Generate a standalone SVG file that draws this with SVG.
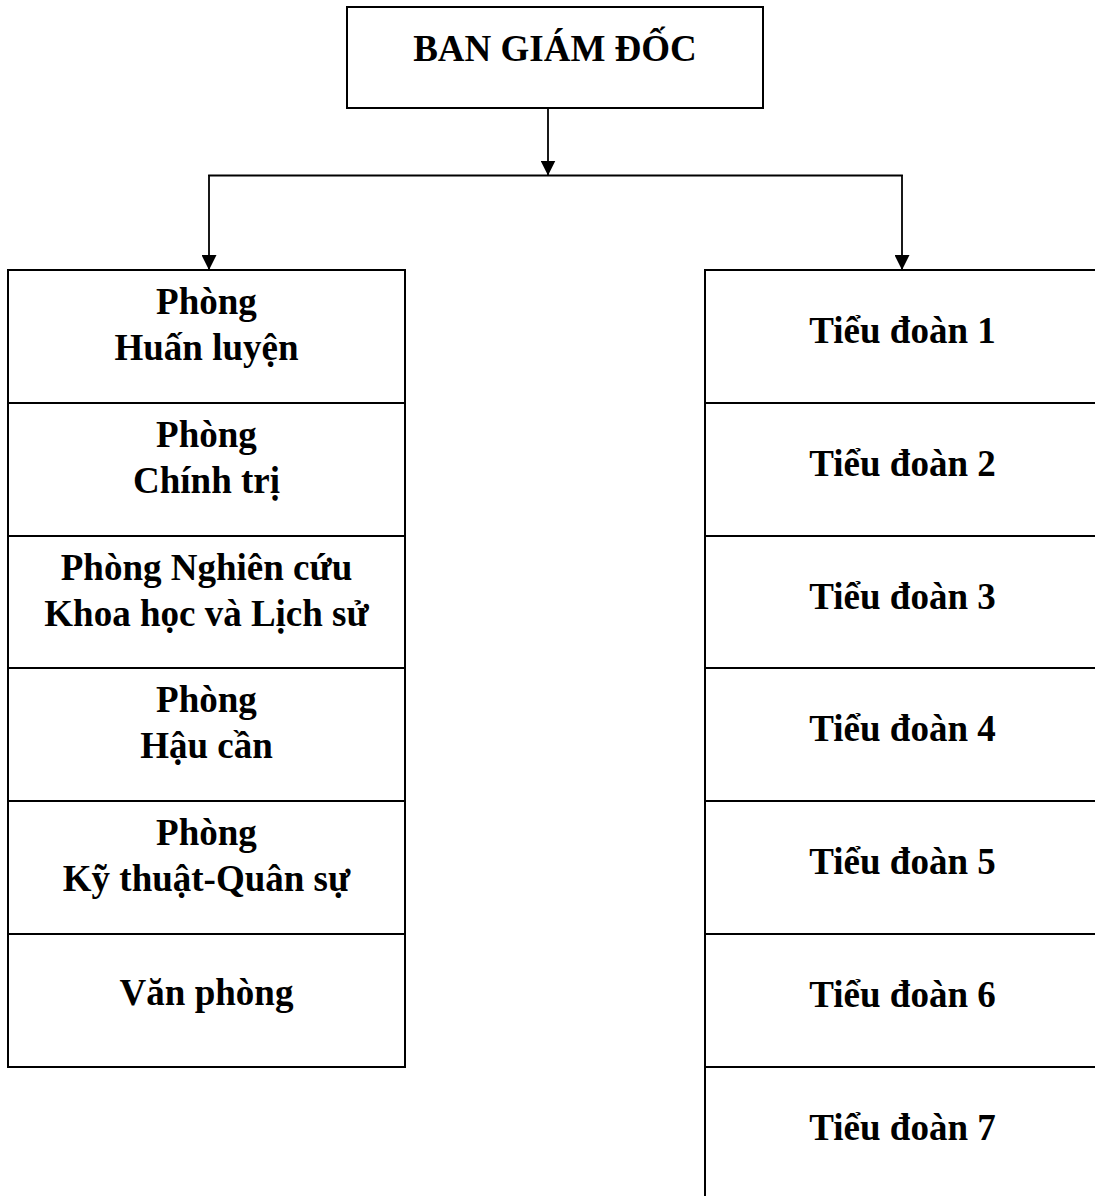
<svg xmlns="http://www.w3.org/2000/svg" width="1095" height="1196" viewBox="0 0 1095 1196">
<defs>
<style>
.box{fill:#fff;stroke:#000;stroke-width:2}
.lbl{font-family:"Liberation Serif","Times New Roman",serif;font-weight:bold;font-size:37px;fill:#000;text-anchor:middle}
.conn{stroke:#000;stroke-width:1.8;fill:none}
</style>
<marker id="arr" viewBox="0 0 15 15" refX="15" refY="7.5" markerWidth="15" markerHeight="15" markerUnits="userSpaceOnUse" orient="auto">
<path d="M0,0 L15,7.5 L0,15 Z" fill="#000"/>
</marker>
</defs>
<rect width="1095" height="1196" fill="#fff"/>
<g id="connectors">
<line class="conn" x1="548" y1="109" x2="548" y2="175.5" marker-end="url(#arr)"/>
<polyline class="conn" points="209,176 209,175.5 902,175.5 902,176"/>
<line class="conn" x1="209" y1="175" x2="209" y2="270" marker-end="url(#arr)"/>
<line class="conn" x1="902" y1="175" x2="902" y2="270" marker-end="url(#arr)"/>
</g>
<g id="ban-giam-doc">
<rect class="box" x="347" y="7" width="416" height="101"/>
<text class="lbl" x="555" y="61">BAN GIÁM ĐỐC</text>
</g>
<g id="phong-huan-luyen">
<rect class="box" x="8" y="270" width="397" height="133"/>
<text class="lbl" x="206.5" y="314">Phòng</text>
<text class="lbl" x="206.5" y="360">Huấn luyện</text>
</g>
<g id="phong-chinh-tri">
<rect class="box" x="8" y="403" width="397" height="133"/>
<text class="lbl" x="206.5" y="447">Phòng</text>
<text class="lbl" x="206.5" y="493">Chính trị</text>
</g>
<g id="phong-nghien-cuu">
<rect class="box" x="8" y="536" width="397" height="132"/>
<text class="lbl" x="206.5" y="580">Phòng Nghiên cứu</text>
<text class="lbl" x="206.5" y="626">Khoa học và Lịch sử</text>
</g>
<g id="phong-hau-can">
<rect class="box" x="8" y="668" width="397" height="133"/>
<text class="lbl" x="206.5" y="712">Phòng</text>
<text class="lbl" x="206.5" y="758">Hậu cần</text>
</g>
<g id="phong-ky-thuat">
<rect class="box" x="8" y="801" width="397" height="133"/>
<text class="lbl" x="206.5" y="845">Phòng</text>
<text class="lbl" x="206.5" y="891">Kỹ thuật-Quân sự</text>
</g>
<g id="van-phong">
<rect class="box" x="8" y="934" width="397" height="133"/>
<text class="lbl" x="206.5" y="1005">Văn phòng</text>
</g>
<g id="tieu-doan-1">
<rect class="box" x="705" y="270" width="400" height="133"/>
<text class="lbl" x="902.5" y="343">Tiểu đoàn 1</text>
</g>
<g id="tieu-doan-2">
<rect class="box" x="705" y="403" width="400" height="133"/>
<text class="lbl" x="902.5" y="476">Tiểu đoàn 2</text>
</g>
<g id="tieu-doan-3">
<rect class="box" x="705" y="536" width="400" height="132"/>
<text class="lbl" x="902.5" y="609">Tiểu đoàn 3</text>
</g>
<g id="tieu-doan-4">
<rect class="box" x="705" y="668" width="400" height="133"/>
<text class="lbl" x="902.5" y="741">Tiểu đoàn 4</text>
</g>
<g id="tieu-doan-5">
<rect class="box" x="705" y="801" width="400" height="133"/>
<text class="lbl" x="902.5" y="874">Tiểu đoàn 5</text>
</g>
<g id="tieu-doan-6">
<rect class="box" x="705" y="934" width="400" height="133"/>
<text class="lbl" x="902.5" y="1007">Tiểu đoàn 6</text>
</g>
<g id="tieu-doan-7">
<rect class="box" x="705" y="1067" width="400" height="140"/>
<text class="lbl" x="902.5" y="1140">Tiểu đoàn 7</text>
</g>
</svg>
